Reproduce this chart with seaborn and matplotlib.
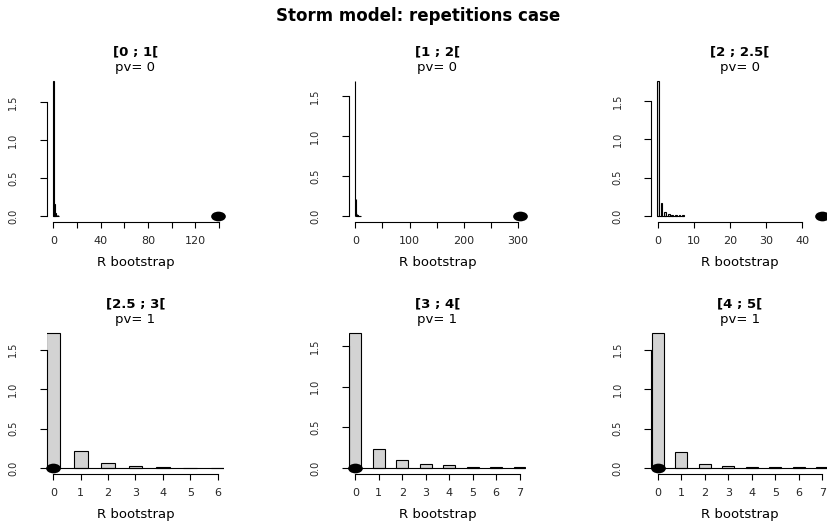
import numpy as np
import pandas as pd
import matplotlib
matplotlib.use("Agg")
import matplotlib.pyplot as plt
import seaborn as sns
from matplotlib.path import Path
from matplotlib.transforms import Affine2D
from matplotlib.markers import MarkerStyle

# ---------------- data ----------------
main_title = "Storm model: repetitions case"
intervals = ["[0 ; 1[", "[1 ; 2[", "[2 ; 2.5[", "[2.5 ; 3[", "[3 ; 4[", "[4 ; 5["]
pvalues = [0, 0, 0, 1, 1, 1]
observed_R = [139, 303, 45.5, 0, 0, 0]

r_boot_1 = [0, 1, 2, 3, 4, 5]
dens_1 = [1.78, 0.153, 0.045, 0.02, 0.01, 0.005]
r_boot_2 = [0, 1, 2, 3, 4, 5, 6, 7, 8, 9, 10]
dens_2 = [1.69, 0.21, 0.05, 0.02, 0.01, 0.008, 0.005, 0.004, 0.003, 0.002, 0.002]
r_boot_3 = [0, 1, 2, 3, 4, 5, 6, 7]
dens_3 = [1.76, 0.173, 0.056, 0.03, 0.015, 0.012, 0.01, 0.01]
r_boot_4 = [0, 1, 2, 3, 4, 5, 6]
dens_4 = [1.71, 0.218, 0.067, 0.025, 0.008, 0.005, 0.005]
r_boot_5 = [0, 1, 2, 3, 4, 5, 6, 7]
dens_5 = [1.66, 0.233, 0.098, 0.049, 0.04, 0.016, 0.01, 0.008]
r_boot_6 = [0, 1, 2, 3, 4, 5, 6, 7]
dens_6 = [1.71, 0.206, 0.055, 0.025, 0.02, 0.01, 0.008, 0.008]

x_ticks_1 = [0, 20, 40, 60, 80, 100, 120, 140]
x_labels_1 = ["0", "", "40", "", "80", "", "120", ""]
x_ticks_2 = [0, 50, 100, 150, 200, 250, 300]
x_labels_2 = ["0", "", "100", "", "200", "", "300"]
x_ticks_3 = [0, 10, 20, 30, 40]
x_labels_3 = ["0", "10", "20", "30", "40"]
x_ticks_4 = [0, 1, 2, 3, 4, 5, 6]
x_labels_4 = ["0", "1", "2", "3", "4", "5", "6"]
x_ticks_5 = [0, 1, 2, 3, 4, 5, 6, 7]
x_labels_5 = ["0", "1", "2", "3", "4", "5", "6", "7"]
x_ticks_6 = [0, 1, 2, 3, 4, 5, 6, 7]
x_labels_6 = ["0", "1", "2", "3", "4", "5", "6", "7"]

y_ticks = [0.0, 0.5, 1.0, 1.5]
y_labels = ["0.0", "0.5", "1.0", "1.5"]
x_label = "R bootstrap"

panels = [
    (r_boot_1, dens_1, x_ticks_1, x_labels_1),
    (r_boot_2, dens_2, x_ticks_2, x_labels_2),
    (r_boot_3, dens_3, x_ticks_3, x_labels_3),
    (r_boot_4, dens_4, x_ticks_4, x_labels_4),
    (r_boot_5, dens_5, x_ticks_5, x_labels_5),
    (r_boot_6, dens_6, x_ticks_6, x_labels_6),
]

# ---------------- style ----------------
sns.set_style("white")
plt.rcParams["font.family"] = ["DejaVu Sans"]
plt.rcParams["text.color"] = "black"

W, H = 828, 525
fig = plt.figure(figsize=(W / 100, H / 100), dpi=100)

col_left = [46.7, 348.7, 651.3]
row_top = [75.5, 327.5]
pw, ph = 177.5, 146.0

ell = Path.unit_circle().transformed(Affine2D().scale(1.0, 0.66))
dot_marker = MarkerStyle(ell)

for i, (xs, ds, xt, xl) in enumerate(panels):
    r, c = divmod(i, 3)
    left = col_left[c] / W
    bottom = 1 - (row_top[r] + ph) / H
    ax = fig.add_axes([left, bottom, pw / W, ph / H])

    df = pd.DataFrame({"R": xs, "dens": ds})
    sns.histplot(data=df, x="R", weights="dens", discrete=True, shrink=0.5,
                 color="#D3D3D3", edgecolor="black", linewidth=0.8, alpha=1,
                 ax=ax)
    ax.hlines(0, xs[0] - 0.25, xs[-1] + 0.25, color="black", lw=0.8, zorder=3)
    obs = pd.DataFrame({"R": [observed_R[i]], "y": [0.0]})
    sns.scatterplot(data=obs, x="R", y="y", marker=dot_marker, s=112,
                    color="black", edgecolor="black", linewidth=0, ax=ax,
                    zorder=5, clip_on=False)

    lo = min(0, xs[0], observed_R[i])
    hi = max(xs[-1], observed_R[i])
    rng = hi - lo
    ax.set_xlim(lo - 0.04 * rng, hi + 0.04 * rng)
    ymax = max(ds)
    ax.set_ylim(-0.04 * ymax, 1.04 * ymax)

    for s in ["top", "right"]:
        ax.spines[s].set_visible(False)
    for s in ["left", "bottom"]:
        ax.spines[s].set_color("black")
        ax.spines[s].set_linewidth(0.8)
    ax.spines["left"].set_bounds(y_ticks[0], y_ticks[-1])
    ax.spines["bottom"].set_bounds(xt[0], xt[-1])

    ax.set_xticks(xt)
    ax.set_xticklabels(xl)
    ax.set_yticks(y_ticks)
    ax.set_yticklabels(y_labels)
    ax.tick_params(axis="x", direction="out", length=4.1, width=0.8,
                   color="black", pad=6.3, labelsize=8, bottom=True)
    ax.tick_params(axis="y", direction="out", length=5.2, width=0.8,
                   color="black", pad=15.5, labelsize=7, left=True)
    for lab in ax.get_yticklabels():
        lab.set_rotation(90)
        lab.set_va("center")
        lab.set_ha("right")
    ax.set_xlabel("")
    ax.set_ylabel("")
    ax.grid(False)

    ax.annotate(intervals[i], xy=(0.5, 1), xycoords="axes fraction",
                xytext=(0, 17.0), textcoords="offset points",
                ha="center", va="center", fontsize=9.5, fontweight="bold")
    ax.annotate(f"pv= {pvalues[i]}", xy=(0.5, 1), xycoords="axes fraction",
                xytext=(0, 5.4), textcoords="offset points",
                ha="center", va="center", fontsize=9.5)
    ax.annotate(x_label, xy=(0.5, 0), xycoords="axes fraction",
                xytext=(0, -29.2), textcoords="offset points",
                ha="center", va="center", fontsize=9.5)

fig.text(418 / W, 1 - 16.0 / H, main_title, ha="center", va="center",
         fontsize=12, fontweight="bold")

fig.savefig("out.png", dpi=100, facecolor="white")
